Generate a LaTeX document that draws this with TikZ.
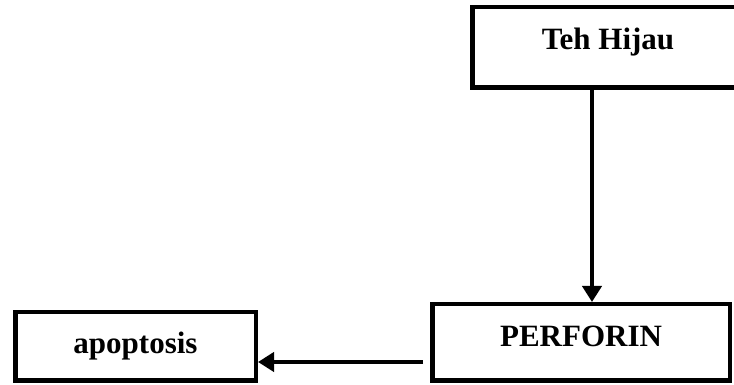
\documentclass[tikz,border=0pt]{standalone}
\usepackage{fontspec}
\setmainfont{Liberation Serif}
\usepackage{tikz}
\usetikzlibrary{arrows.meta,positioning}

\begin{document}
\begin{tikzpicture}[
  x=1pt, y=1pt,
  node distance=172pt,
  flowbox/.style={draw, line width=4.5pt, inner sep=0pt, font=\bfseries\fontsize{31}{35}\selectfont},
  raised/.style={text height=20.5pt, text depth=#1},
  arrow/.style={-{Triangle[length=16pt,width=19pt]}, line width=4pt}
]
\useasboundingbox (0,0) rectangle (734,385);
\node[flowbox, raised=15.5pt, minimum width=271.5pt, minimum height=80.5pt] (teh) at (608,337.5) {Teh Hijau};
\node[flowbox, raised=11.5pt, minimum width=297.5pt, minimum height=76.5pt] (perforin) at (581,42.5) {PERFORIN};
\node[flowbox, minimum width=240.5pt, minimum height=68.5pt, left=of perforin.west, yshift=-4pt] (apop) {apoptosis};

\draw[arrow] ([xshift=-16pt]teh.south) -- ([xshift=-16pt]teh.south |- perforin.north);
\draw[arrow] ([xshift=-7pt,yshift=-19.5pt]perforin.west) -- ([yshift=-19.5pt]perforin.west -| apop.east);
\end{tikzpicture}
\end{document}
